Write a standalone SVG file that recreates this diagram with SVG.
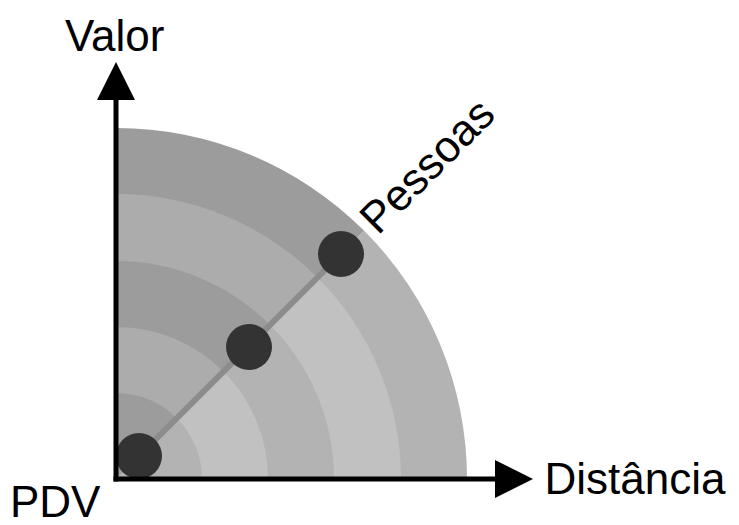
<svg xmlns="http://www.w3.org/2000/svg" width="739" height="525" viewBox="0 0 739 525">
  <style>
    .lbl { font-family: "Liberation Sans", Arial, sans-serif; font-size: 44px; fill: #000; }
    .dk { fill: #9c9c9c; }
    .lt { fill: #acacac; }
    .dkb { fill: #b3b3b3; }
    .ltb { fill: #c1c1c1; }
    .axis { stroke: #000; stroke-width: 5; fill: none; }
    .dot { fill: #333333; }
  </style>
  <rect width="739" height="525" fill="#ffffff"/>
  <g id="rings">
    <path class="dk" d="M116 479 L116 128 A351 351 0 0 1 364.2 230.8 Z"/>
    <path class="dkb" d="M116 479 L364.2 230.8 A351 351 0 0 1 467 479 Z"/>
    <path class="lt" d="M116 479 L116 194 A285 285 0 0 1 317.5 277.5 Z"/>
    <path class="ltb" d="M116 479 L317.5 277.5 A285 285 0 0 1 401 479 Z"/>
    <path class="dk" d="M116 479 L116 261 A218 218 0 0 1 270.1 324.9 Z"/>
    <path class="dkb" d="M116 479 L270.1 324.9 A218 218 0 0 1 334 479 Z"/>
    <path class="lt" d="M116 479 L116 327 A152 152 0 0 1 223.5 371.5 Z"/>
    <path class="ltb" d="M116 479 L223.5 371.5 A152 152 0 0 1 268 479 Z"/>
    <path class="dk" d="M116 479 L116 393 A86 86 0 0 1 176.8 418.2 Z"/>
    <path class="dkb" d="M116 479 L176.8 418.2 A86 86 0 0 1 202 479 Z"/>
  </g>
  <g id="connectors">
    <line x1="139" y1="456" x2="341" y2="254" stroke="#8c8c8c" stroke-width="6"/>
  </g>
  <g id="node-pdv"><circle class="dot" cx="139" cy="456" r="23"/></g>
  <g id="node-mid"><circle class="dot" cx="249" cy="347" r="23"/></g>
  <g id="node-pessoas"><circle class="dot" cx="341" cy="254" r="23"/></g>
  <g id="axis-valor">
    <line class="axis" x1="116" y1="481.5" x2="116" y2="98"/>
    <polygon points="97,100 135,100 116,62" fill="#000"/>
    <text class="lbl" x="65" y="51">Valor</text>
  </g>
  <g id="axis-distancia">
    <line class="axis" x1="113.5" y1="479" x2="497" y2="479"/>
    <polygon points="495,460 495,498 533,479" fill="#000"/>
    <text class="lbl" x="544.5" y="494">Distância</text>
  </g>
  <g id="label-pdv">
    <text class="lbl" x="10" y="517">PDV</text>
  </g>
  <g id="label-pessoas">
    <text class="lbl" x="378" y="236" transform="rotate(-45 378 236)">Pessoas</text>
  </g>
</svg>
